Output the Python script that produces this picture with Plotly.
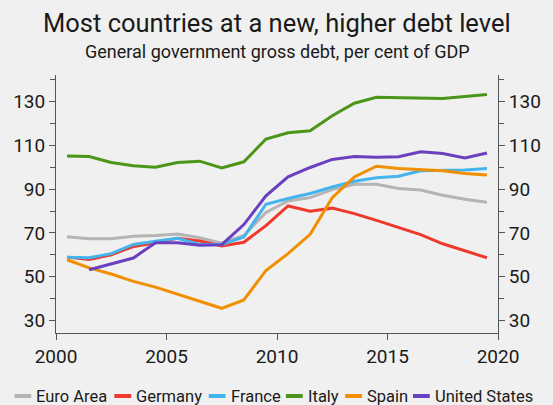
import plotly.graph_objects as go

# Annual general government gross debt, % of GDP (plotted at mid-year)
years = list(range(2000, 2020))
euro_area = [68.2, 67.3, 67.3, 68.5, 68.8, 69.5, 67.8, 65.3, 68.8, 79.3,
             84.6, 86.1, 89.8, 92.2, 92.2, 90.3, 89.6, 87.2, 85.4, 84.0]
germany = [58.9, 57.8, 60.0, 63.7, 65.5, 67.5, 66.3, 64.0, 65.7, 73.3,
           82.3, 79.9, 81.3, 78.8, 75.7, 72.4, 69.2, 65.0, 61.7, 58.6]
france = [58.9, 58.6, 60.5, 64.7, 66.2, 67.5, 64.7, 64.7, 68.1, 83.1,
          85.7, 88.0, 91.0, 93.6, 95.2, 95.9, 98.4, 98.7, 98.7, 99.4]
italy = [105.2, 104.9, 102.2, 100.7, 100.0, 102.2, 102.8, 99.7, 102.5, 112.9,
         115.8, 116.7, 123.6, 129.3, 132.0, 131.8, 131.5, 131.5, 132.4, 133.3]
spain = [57.7, 54.0, 51.2, 47.8, 45.2, 42.1, 38.7, 35.5, 39.3, 52.8,
         60.5, 69.3, 86.1, 95.6, 100.5, 99.4, 98.9, 98.4, 97.2, 96.5]
united_states = [None, 53.1, 55.7, 58.5, 65.5, 65.5, 64.3, 64.6, 73.8, 86.9,
                 95.6, 99.9, 103.6, 104.9, 104.6, 104.8, 107.1, 106.3, 104.3, 106.5]

series_names = ["Euro Area", "Germany", "France", "Italy", "Spain", "United States"]
series_values = [euro_area, germany, france, italy, spain, united_states]
series_colors = ["#b4b4b4", "#ee3a2c", "#44b4ee", "#4b9618", "#f09000", "#6b40c0"]

y_ticks = [30, 50, 70, 90, 110, 130]
x_ticks = [2000, 2005, 2010, 2015, 2020]

W, H = 553, 405
ML, MR, MT, MB = 56, 50, 75, 72
PW, PH = W - ML - MR, H - MT - MB

FONT = "Roboto"
INK = "#1a1a1a"
AXIS = "#555555"


def px_x(px):
    return (px - ML) / PW


def px_y(py):
    return (H - MB - py) / PH


fig = go.Figure()
x_mid = [y + 0.5 for y in years]
for name, vals, col in zip(series_names, series_values, series_colors):
    fig.add_trace(go.Scatter(
        x=x_mid, y=vals, mode="lines", name=name,
        line=dict(color=col, width=3), connectgaps=False, showlegend=False,
    ))

yaxis_common = dict(
    range=[24.2, 142.2], tickvals=y_ticks, ticks="outside", ticklen=6,
    tickcolor=AXIS, tickwidth=1, showline=True, linecolor=AXIS, linewidth=1,
    showgrid=False, zeroline=False,
    tickfont=dict(family=FONT, size=19, color=INK),
    minor=dict(dtick=10, tick0=30, ticks="outside", ticklen=5,
               tickcolor=AXIS, showgrid=False),
)

fig.update_layout(
    width=W, height=H,
    margin=dict(l=ML, r=MR, t=MT, b=MB),
    paper_bgcolor="#f0f0f0", plot_bgcolor="#f0f0f0",
    showlegend=False,
    xaxis=dict(
        range=[2000, 2020], tickvals=x_ticks, ticks="outside", ticklen=6,
        tickcolor=AXIS, showline=True, linecolor=AXIS, linewidth=1,
        showgrid=False, zeroline=False,
        tickfont=dict(family=FONT, size=19, color=INK),
    ),
    yaxis=dict(side="left", **yaxis_common),
    yaxis2=dict(side="right", overlaying="y", matches="y", **yaxis_common),
)

# Invisible companion trace so the right-hand axis is drawn
fig.add_trace(go.Scatter(x=[2000], y=[None], yaxis="y2", mode="lines",
                         showlegend=False, hoverinfo="skip"))

annotations = [
    dict(text="Most countries at a new, higher debt level", x=0.5, y=px_y(23),
         xref="paper", yref="paper", xanchor="center", yanchor="middle",
         showarrow=False, font=dict(family=FONT, size=25.5, color=INK)),
    dict(text="General government gross debt, per cent of GDP", x=0.5, y=px_y(51),
         xref="paper", yref="paper", xanchor="center", yanchor="middle",
         showarrow=False, font=dict(family=FONT, size=18, color=INK)),
]

# Legend row along the bottom
legend_x = [14, 115, 210.5, 288.5, 348.5, 417]
legend_y = 396
shapes = []
for name, col, lx in zip(series_names, series_colors, legend_x):
    shapes.append(dict(type="line", xref="paper", yref="paper",
                       x0=px_x(lx), x1=px_x(lx + 17), y0=px_y(legend_y), y1=px_y(legend_y),
                       line=dict(color=col, width=4)))
    annotations.append(dict(text=name, x=px_x(lx + 20), y=px_y(legend_y),
                            xref="paper", yref="paper", xanchor="left", yanchor="middle",
                            showarrow=False, font=dict(family=FONT, size=16.5, color=INK)))

fig.update_layout(annotations=annotations, shapes=shapes)
fig.write_html("out.html")
